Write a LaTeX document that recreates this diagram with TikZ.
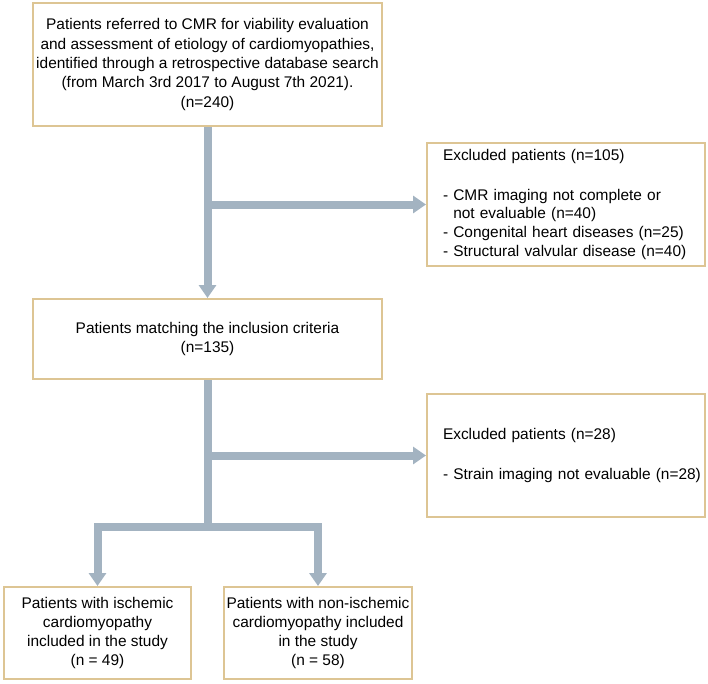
\documentclass[tikz,border=0pt]{standalone}
\usepackage{fontspec}
\setmainfont{Liberation Sans}
\usetikzlibrary{arrows.meta}

\definecolor{boxline}{HTML}{DDC594}
\definecolor{flowbar}{HTML}{A3B3C1}

\tikzset{
    box/.style={draw=boxline, line width=2bp, fill=white, align=center, inner sep=0pt,
        font=\fontsize{15.5}{18.8}\selectfont},
    exclbox/.style={box, align=left, text width=278bp,
        execute at begin node={\leftskip=16bp}},
    bar/.style={draw=flowbar, line width=8bp},
    flow/.style={bar, -{Triangle[width=17bp,length=13bp]}}
}

\begin{document}
\begin{tikzpicture}[x=1bp, y=-1bp]
        \useasboundingbox (0,0) rectangle (708,684);

        \node[box, minimum width=349bp, minimum height=123bp, font=\fontsize{15.5}{19.5}\selectfont]
            (referred) at (207.5,64.5) {Patients referred to CMR for viability evaluation\\
            and assessment of etiology of cardiomyopathies,\\
            identified through a retrospective database search\\
            (from March 3rd 2017 to August 7th 2021).\\(n=240)};
        \node[exclbox, minimum height=123bp] (excl1) at (566,204.5) {Excluded patients (n=105)\\[21bp]
            - CMR imaging not complete or\\
            \phantom{- }not evaluable (n=40)\\
            - Congenital heart diseases (n=25)\\
            - Structural valvular disease (n=40)};
        \node[box, minimum width=349bp, minimum height=80bp] (matching) at (207.5,339)
            {Patients matching the inclusion criteria\\(n=135)};
        \node[exclbox, minimum height=123bp] (excl2) at (566,455.5) {Excluded patients (n=28)\\[21bp]
            - Strain imaging not evaluable (n=28)};
        \node[box, minimum width=187bp, minimum height=92bp] (ischemic) at (97.5,633)
            {Patients with ischemic\\cardiomyopathy\\included in the study\\(n = 49)};
        \node[box, minimum width=188bp, minimum height=92bp] (nonischemic) at (318,633)
            {Patients with non-ischemic\\cardiomyopathy included\\in the study\\(n = 58)};

        \coordinate (split) at (207.5,527);

        \draw[flow] (referred.south) -- (matching.north);
        \draw[flow] (referred.south |- excl1.west) -- (excl1.west);
        \draw[bar] (matching.south) -- (split);
        \draw[flow] (matching.south |- excl2.west) -- (excl2.west);
        \draw[flow, {Triangle[width=17bp,length=13bp]}-{Triangle[width=17bp,length=13bp]}]
            (ischemic.north) -- (ischemic.north |- split) -- (nonischemic.north |- split) -- (nonischemic.north);

    \end{tikzpicture}
\end{document}
